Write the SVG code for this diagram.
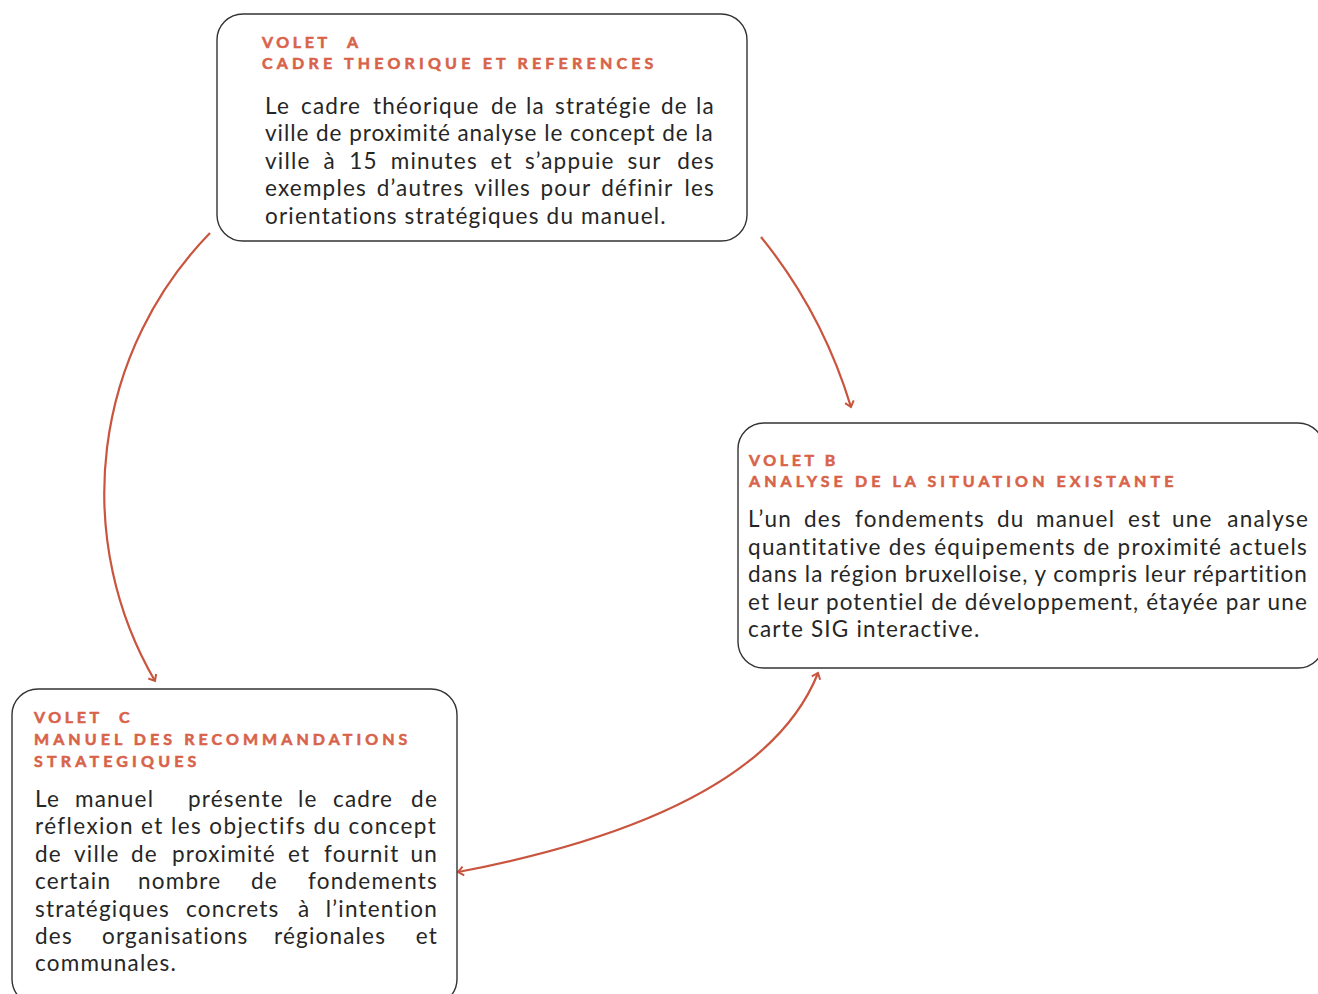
<svg xmlns="http://www.w3.org/2000/svg" width="1318" height="994" viewBox="0 0 1318 994">
<style>
.box{fill:#fff;stroke:#333;stroke-width:1.4}
.hd{font-family:Lato,"Liberation Sans",sans-serif;font-weight:700;font-size:16px;fill:#d8634a;stroke:#d8634a;stroke-width:0.55;letter-spacing:3.6px}
.bd{font-family:Lato,"Liberation Sans",sans-serif;font-size:22.5px;fill:#262626;letter-spacing:1.2px}
.con{fill:none;stroke:#c9553f;stroke-width:2.2}
</style>
<defs>
<marker id="ah" markerWidth="12" markerHeight="12" refX="10" refY="6" orient="auto-start-reverse" markerUnits="userSpaceOnUse">
<path d="M4.5,1.5 L10,6 L4.5,10.5" fill="none" stroke="#c9553f" stroke-width="2"/>
</marker>
</defs>
<rect width="1318" height="994" fill="#fff"/>
<g id="connectors">
<path class="con" d="M210,233 A373,373 0 0 0 155,681" marker-end="url(#ah)"/>
<path class="con" d="M761,237 Q822,312 851,407" marker-end="url(#ah)"/>
<path class="con" d="M818,673 Q762,814 458,872" marker-start="url(#ah)" marker-end="url(#ah)"/>
</g>
<g id="voletA">
<rect class="box" x="217" y="14" width="530" height="227" rx="26"/>
<text class="hd" y="48"><tspan x="262">VOLET</tspan><tspan x="347">A</tspan></text>
<text class="hd" x="262" y="69" textLength="395" lengthAdjust="spacing">CADRE THEORIQUE ET REFERENCES</text>
<text class="bd" y="113.5"><tspan x="265">Le</tspan><tspan x="301">cadre</tspan><tspan x="373">théorique</tspan><tspan x="491">de</tspan><tspan x="526">la</tspan><tspan x="555">stratégie</tspan><tspan x="661">de</tspan><tspan x="715" text-anchor="end">la</tspan></text>
<text class="bd" x="265" y="141" textLength="449" lengthAdjust="spacing">ville de proximité analyse le concept de la</text>
<text class="bd" y="168.5"><tspan x="265">ville</tspan><tspan x="323.6">à</tspan><tspan x="349.2">15</tspan><tspan x="390.8">minutes</tspan><tspan x="490.4">et</tspan><tspan x="525">s’appuie</tspan><tspan x="627.5">sur</tspan><tspan x="715" text-anchor="end">des</tspan></text>
<text class="bd" y="196"><tspan x="265">exemples</tspan><tspan x="376.8">d’autres</tspan><tspan x="474.6">villes</tspan><tspan x="540.4">pour</tspan><tspan x="601.2">définir</tspan><tspan x="715" text-anchor="end">les</tspan></text>
<text class="bd" x="265" y="223.5">orientations stratégiques du manuel.</text>
</g>
<g id="voletB">
<rect class="box" x="738" y="423" width="586" height="245" rx="26"/>
<text class="hd" x="749" y="466">VOLET B</text>
<text class="hd" x="749" y="487" textLength="428" lengthAdjust="spacing">ANALYSE DE LA SITUATION EXISTANTE</text>
<text class="bd" y="527"><tspan x="748">L’un</tspan><tspan x="804">des</tspan><tspan x="855">fondements</tspan><tspan x="997">du</tspan><tspan x="1036">manuel</tspan><tspan x="1128">est</tspan><tspan x="1172">une</tspan><tspan x="1309" text-anchor="end">analyse</tspan></text>
<text class="bd" x="748" y="555" textLength="560" lengthAdjust="spacing">quantitative des équipements de proximité actuels</text>
<text class="bd" x="748" y="582" textLength="560" lengthAdjust="spacing">dans la région bruxelloise, y compris leur répartition</text>
<text class="bd" x="748" y="610" textLength="560" lengthAdjust="spacing">et leur potentiel de développement, étayée par une</text>
<text class="bd" x="748" y="637">carte SIG interactive.</text>
</g>
<g id="voletC">
<rect class="box" x="12" y="689" width="445" height="316" rx="26"/>
<text class="hd" y="723"><tspan x="34">VOLET</tspan><tspan x="119">C</tspan></text>
<text class="hd" x="34" y="745" textLength="377" lengthAdjust="spacing">MANUEL DES RECOMMANDATIONS</text>
<text class="hd" x="34" y="767" textLength="166" lengthAdjust="spacing">STRATEGIQUES</text>
<text class="bd" y="807"><tspan x="35">Le</tspan><tspan x="75">manuel</tspan><tspan x="188">présente</tspan><tspan x="298">le</tspan><tspan x="333">cadre</tspan><tspan x="438" text-anchor="end">de</tspan></text>
<text class="bd" x="35" y="834" textLength="402" lengthAdjust="spacing">réflexion et les objectifs du concept</text>
<text class="bd" y="862"><tspan x="35">de</tspan><tspan x="74">ville</tspan><tspan x="131">de</tspan><tspan x="172">proximité</tspan><tspan x="288">et</tspan><tspan x="324">fournit</tspan><tspan x="438" text-anchor="end">un</tspan></text>
<text class="bd" y="889"><tspan x="35">certain</tspan><tspan x="138">nombre</tspan><tspan x="251">de</tspan><tspan x="438" text-anchor="end">fondements</tspan></text>
<text class="bd" y="917"><tspan x="35">stratégiques</tspan><tspan x="186">concrets</tspan><tspan x="298">à</tspan><tspan x="438" text-anchor="end">l’intention</tspan></text>
<text class="bd" y="944"><tspan x="35">des</tspan><tspan x="102">organisations</tspan><tspan x="274">régionales</tspan><tspan x="438" text-anchor="end">et</tspan></text>
<text class="bd" x="35" y="971">communales.</text>
</g>
</svg>
